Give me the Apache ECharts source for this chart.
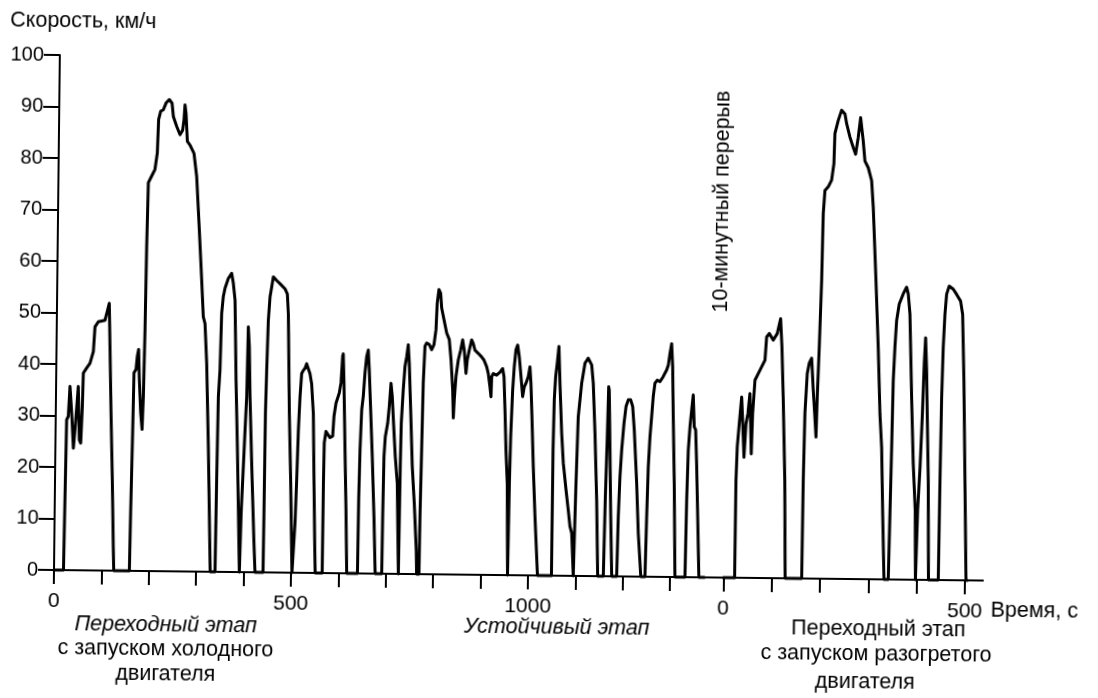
<!DOCTYPE html>
<html>
<head>
<meta charset="utf-8">
<script src="https://cdn.jsdelivr.net/npm/echarts@6/dist/echarts.min.js"></script>
<style>
html,body{margin:0;padding:0;background:#fff;overflow:hidden;}
#chart{width:1098px;height:698px;transform:rotate(0.65deg);transform-origin:54px 570px;}
</style>
</head>
<body>
<div id="chart"></div>
<script>
// ---- data: [time s, speed km/h] ----
const coldStartPhase = [
 [0,0],[20,0],[23.1,29.2],[26.5,29.9],[29.4,35.7],[33.6,30.5],[37.9,23.7],[41,27.3],[44.4,27.6],[46.9,35.7],[50.3,25.3],[53.3,24.7],[55.9,31.8],[57.2,38.3],[64.1,39.3],[71,40.2],[77.8,42.5],[80.7,47.3],[87.6,48.3],[101.6,48.6],[105,49.9],[110.3,51.9],[112.8,43.5],[116.6,30.5],[120.9,17.6],[124.5,4.6],[126,0],
 [159,0],[160.3,11.3],[162.7,27.5],[164.1,38.5],[168.2,39.1],[170.7,41.7],[173.3,43],[175.5,37.2],[179.1,30.7],[182.4,27.5],[184.4,34],[186.3,46.9],[187.8,63.1],[189.8,75.4],[196.6,76.7],[203.4,78],[208,81.2],[210,87.7],[214.1,89.3],[219.7,89.6],[225.2,90.9],[232.1,91.6],[237.9,90.9],[241,88.3],[248.2,86.4],[255.4,84.8],[260.9,85.7],[263.5,87.7],[265.3,90.6],[267.6,89],[271.1,83.5],[276.8,82.8],[285.4,81.2],[291.6,76.7],[298.5,66.3],[304.6,56.6],[308.9,49.5],[312.7,48.2],[317.2,40.4],[322.7,24.2],[329.5,0],
 [339.7,0],[341,17.9],[342.6,34.1],[345.4,39.2],[347.6,50.2],[350.7,53.5],[354.1,55.1],[360.8,57],[367.7,58],[371.4,56.1],[375.5,52.8],[379.5,37.3],[383.9,24.3],[387.5,12.1],[391,0],
 [392,0],[393.5,11.6],[399.7,27.6],[402.4,34.1],[404.2,47.6],[406.8,43.8],[409.4,34.1],[414.5,21.1],[421,6],[424,0],
 [441,0],[441.6,11.4],[442.3,30.8],[443.9,39.2],[446.2,48.9],[449.2,53.5],[452.4,55.4],[455.7,57.4],[462.9,56.7],[469.9,56.1],[480.6,55.1],[485.7,54.1],[488.3,50.2],[492.8,30.8],[497.1,17.9],[502,0]
];
const stabilizedPhase = [
 [505,0],[507.3,9.6],[509.8,18],[512.2,27.7],[514.9,34.2],[517.8,38.7],[521.2,39.3],[524.7,39.7],[528.1,40.6],[531.6,40.9],[535.3,38.7],[539.1,36.7],[543.4,30.9],[546.3,18],[549.5,5],[551,0],
 [565.8,0],[566.3,17.5],[567.1,25.3],[570.4,27.5],[579.1,26.3],[584.7,26.6],[587,30.5],[590.9,33],[597.6,35],[601,37],[603.9,42.2],[605.1,42.6],[607.3,37],[611,24],[614.5,12.4],[617.5,0],
 [640.2,0],[641.1,14.3],[642.7,24],[645.3,31.8],[648.3,34.4],[651.3,38.9],[654.5,42.1],[657.8,43.4],[660.3,39.6],[664.2,31.8],[668.7,22.7],[673.7,11.1],[677.5,0],
 [691.4,0],[692.1,11.1],[693.4,22.8],[695.7,26.6],[700.4,29.2],[703.4,32.5],[706.5,37],[709.5,34.4],[713.2,28.6],[717.2,22.8],[722.1,17.6],[724.5,7.9],[726.5,0],
 [727.2,0],[728,20.9],[729.1,29.3],[732.5,35.8],[735.6,40.3],[738.9,42.2],[742,44.5],[744.6,40.9],[748.6,31.9],[753.3,20.9],[758.4,13.8],[763.7,4.7],[765,0],
 [770,0],[770.8,11.3],[772.7,24.2],[774.5,37.2],[777.3,44.3],[780.8,44.9],[786.3,44.6],[791.4,43.6],[796.2,44.6],[800.1,47.5],[802.1,52.7],[805.4,55.3],[809.1,54.6],[811.6,51.7],[816.7,49.5],[822.7,46.9],[828.4,45.6],[832.5,41.7],[836.7,35.9],[838.7,30.4],[840.3,33.9],[843.4,38.5],[847.9,41.7],[852.6,43.6],[856.6,45.6],[860.2,43.6],[864.4,39.1],[866.8,41.7],[870.8,43.6],[875.6,45.6],[879.1,44.9],[882.8,43.6],[889.8,43],[897.1,42.3],[902.1,41.7],[907.9,40.4],[911.4,39.1],[915.3,36.5],[917.7,34.6],[918.7,38.5],[922,39.1],[929.1,38.8],[936.1,39.4],[941.7,40.1],[944.7,38.5],[947.6,32],[950.6,24.2],[954.1,17.8],[956.8,0],
 [957.8,0],[958.6,17.9],[960.2,26.9],[963.3,36],[966.1,40.5],[969.3,43.8],[972.8,44.7],[976.4,42.5],[980.5,38.6],[984.5,34.7],[987.7,36.6],[991.2,37.3],[995.9,38.6],[999.2,40.5],[1001.7,37.3],[1004.6,30.8],[1008.6,21.1],[1013.4,11.4],[1020,0],
 [1049.5,0],[1049.9,24.5],[1051.3,34.2],[1053.7,38.7],[1056.7,41.3],[1059.9,44.5],[1062.9,37.4],[1067.7,27.7],[1071.8,21.9],[1078.2,16.7],[1083.4,12.8],[1087.4,9.6],[1091.2,8.3],[1095.5,0],
 [1097,0],[1099.1,18],[1102.3,30.9],[1108.7,37.4],[1115.2,41.3],[1122,42.3],[1129.4,41],[1133.2,37.4],[1138,27.7],[1143.1,14.8],[1147,0],
 [1158.9,0],[1161.3,15.1],[1164,27.1],[1165.8,36.8],[1167.1,36.1],[1169.9,25.1],[1173,12.1],[1176.6,0],
 [1187.1,0],[1189.1,11.6],[1191.7,19.4],[1194.7,24.6],[1198.9,29.7],[1202.8,33],[1207.4,34.3],[1212.5,34.3],[1216.9,33],[1220.8,28.4],[1227.1,18.1],[1231.7,8.4],[1238,0],
 [1246.8,0],[1249,11.7],[1251.2,21.4],[1254.1,27.2],[1257.1,31.1],[1260,35],[1263.3,37.6],[1268.1,38.2],[1273.9,37.9],[1280.6,38.9],[1287.7,40.2],[1291,41.1],[1294.3,43.4],[1297.6,45.3],[1300.3,40.8],[1302.7,31.1],[1306.4,18.2],[1310,0],
 [1331.2,0],[1333,15],[1335.2,24.7],[1338.2,29.2],[1341.4,32.5],[1344.4,35.4],[1347.2,29.2],[1350.3,28.6],[1353.3,21.5],[1356.6,11.8],[1360.5,0],[1372,0]
];
const hotStartPhase = [
 [0,0],[23.5,0],[24,18.9],[25.9,25.4],[29.5,29.9],[33.9,35.1],[36.4,30.6],[40,23.4],[43.4,29.9],[47.2,31.9],[50.9,35.8],[55,24.1],[56.9,31.9],[61,38.4],[67.6,39.7],[74.4,41],[81.2,42.3],[84.1,46.8],[89.5,47.5],[97.8,46.2],[106,47.5],[112.6,50.4],[116,44.9],[119.8,35.2],[125,19],[128,0],
 [162.2,0],[163.2,19.1],[165.1,32.1],[169,39.8],[172.8,41.8],[177.7,42.8],[181.8,36.6],[185.2,32.1],[188.5,27.5],[190.2,35.3],[193.2,45],[196.6,58],[198.3,70.9],[201.3,75.4],[208,76.1],[214.8,77.4],[219.2,80.6],[220.6,86.5],[227.1,89],[233.9,91],[240.9,90.3],[244.6,88.4],[251.7,85.8],[258.8,83.8],[263.9,82.5],[268.9,85.8],[273.4,89.6],[276.7,89.6],[279.3,85.1],[283.3,81.2],[290.3,79.9],[297.6,77.4],[301.6,72.2],[308.9,58],[315.2,45],[320.3,32.1],[324.6,25.5],[328.3,12.7],[332.4,0],
 [341.3,0],[343.3,12.8],[345.3,25.7],[347,38.6],[349.7,45.1],[352.6,50.3],[357.6,53.5],[365.7,55.5],[372.5,56.8],[376,55.5],[380,51.6],[385.4,35.4],[390.3,22.5],[395.5,13.5],[397.5,0],
 [398.5,0],[400.5,13.5],[404.5,22],[408,32],[410.7,41.9],[413,47],[415.9,40.5],[418.1,32.2],[421.8,19.2],[424.5,0],
 [444.8,0],[446,19.2],[447.5,35.4],[449.6,45.1],[452.4,51.6],[455.4,55.5],[460.6,57.1],[469,56.5],[476.1,55.5],[484.5,54.2],[489,51.6],[493.2,38.7],[497.7,19.2],[502.1,0],[505,0]
];
// ---- axis ticks & labels ----
const coldTicks = [0,100,200,300,400,500,600,700,800,900,1000,1100,1200,1300];
const coldTickLabels = [0,500,1000];
const hotTicks = [0,100,200,300,400,500];
const hotTickLabels = [0,500];
const speedMin = 0, speedMax = 100, speedStep = 10;

const FONT = '"Liberation Sans", Arial, sans-serif';
const BLACK = '#000';
const chart = echarts.init(document.getElementById('chart'), null, {renderer:'canvas'});

function xAxisDef(gridIndex, max, ticks, labels){
  return {
    type:'value', gridIndex, min:0, max,
    axisLine:{show:true, onZero:false, lineStyle:{color:BLACK, width:2}},
    axisTick:{show:true, customValues:ticks, length:14, lineStyle:{color:BLACK, width:2}},
    axisLabel:{show:true, customValues:labels, margin:21, fontSize:21, fontFamily:FONT, color:BLACK,
      formatter: v => String(v)},
    splitLine:{show:false}
  };
}
function lineSeries(xi, data){
  return {
    type:'line', xAxisIndex:xi, yAxisIndex:xi, data, showSymbol:false, symbol:'none',
    lineStyle:{color:BLACK, width:3, join:'round', cap:'round'}, itemStyle:{color:BLACK}, silent:true, clip:false, z:5
  };
}
function txt(text, x, y, opts){
  opts = opts || {};
  return {
    type:'text', x, y, rotation: opts.rotation || 0, z:10,
    style:{text, fill:BLACK, fontSize: opts.size || 21.5, fontFamily:FONT, fontStyle: opts.italic ? 'italic':'normal',
      align: opts.align || 'center', textAlign: opts.align || 'center', verticalAlign:'middle', textVerticalAlign:'middle'}
  };
}

const option = {
  animation:false,
  backgroundColor:'#fff',
  grid:[
    {left:54, top:55, width:669.3, height:515},
    {left:723.3, top:55, width:259.7, height:515}
  ],
  xAxis:[
    xAxisDef(0, 1412, coldTicks, coldTickLabels),
    xAxisDef(1, 537.2, hotTicks, hotTickLabels)
  ],
  yAxis:[
    {type:'value', gridIndex:0, min:speedMin, max:speedMax, interval:speedStep,
     axisLine:{show:true, lineStyle:{color:BLACK, width:2}},
     axisTick:{show:true, length:16, lineStyle:{color:BLACK, width:2}},
     axisLabel:{margin:16, fontSize:20, fontFamily:FONT, color:BLACK},
     splitLine:{show:false}},
    {type:'value', gridIndex:1, min:speedMin, max:speedMax, interval:speedStep, show:false, splitLine:{show:false}}
  ],
  series:[
    lineSeries(0, coldStartPhase.concat(stabilizedPhase)),
    lineSeries(1, hotStartPhase)
  ],
  graphic:[
    txt('Скорость, км/ч', 4, 21.5, {align:'left'}),
    txt('10-минутный перерыв', 718.3, 194, {rotation:Math.PI/2}),
    txt('Переходный этап', 166.4, 624, {italic:true}),
    txt('с запуском холодного', 166.4, 647.7),
    txt('двигателя', 166.4, 672.7),
    txt('Устойчивый этап', 557.3, 621.6, {italic:true}),
    txt('Переходный этап', 879, 620),
    txt('с запуском разогретого', 877, 645.5),
    txt('двигателя', 866, 673.5),
    txt('Время, с', 991, 600.4, {align:'left', size:21.5})
  ]
};
chart.setOption(option);
</script>
</body>
</html>
